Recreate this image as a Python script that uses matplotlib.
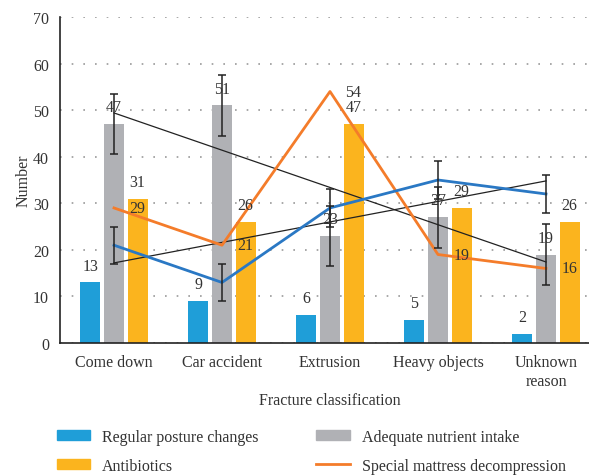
import numpy as np
import matplotlib
matplotlib.use('Agg')
import matplotlib.pyplot as plt
from matplotlib.patches import Patch
from matplotlib.lines import Line2D

categories = ['Come down', 'Car accident', 'Extrusion', 'Heavy objects', 'Unknown\nreason']
posture = [13, 9, 6, 5, 2]
nutrient = [47, 51, 23, 27, 19]
antibiotics = [31, 26, 47, 29, 26]
mattress = [29, 21, 54, 19, 16]
blue_line = [21, 13, 29, 35, 32]
nutrient_err = [6.5, 6.5, 6.5, 6.5, 6.5]
blue_line_err = [4, 4, 4, 4, 4]

c_blue = '#1f9ed8'
c_gray = '#b0b1b5'
c_yellow = '#fbb41e'
c_orange = '#f47c2a'
c_line_blue = '#2a78c4'

plt.rcParams['font.family'] = ['Liberation Serif', 'DejaVu Serif']
plt.rcParams['font.size'] = 11.5

fig = plt.figure(figsize=(5.89, 4.77), dpi=100)
ax = fig.add_axes([60 / 589, 133 / 477, 540 / 589, 326 / 477])

x = np.arange(len(categories))
off = 0.218
w = 0.185

ax.bar(x - off, posture, w, color=c_blue, zorder=2)
ax.bar(x, nutrient, w, color=c_gray, zorder=2)
ax.bar(x + off, antibiotics, w, color=c_yellow, zorder=2)

# linear trendlines
for series in (nutrient, blue_line):
    k, b = np.polyfit(x, series, 1)
    ax.plot(x, k * x + b, color='#222222', lw=0.9, zorder=3)

ax.plot(x, mattress, color=c_orange, lw=2.0, zorder=4)
ax.plot(x, blue_line, color=c_line_blue, lw=2.0, zorder=4)

ax.errorbar(x, nutrient, yerr=nutrient_err, fmt='none', ecolor='#222222',
            elinewidth=1.1, capsize=3, capthick=1.1, zorder=5)
ax.errorbar(x, blue_line, yerr=blue_line_err, fmt='none', ecolor='#222222',
            elinewidth=1.1, capsize=3, capthick=1.1, zorder=5)

# data labels
for i in range(len(categories)):
    ax.text(x[i] - off, posture[i] + 3.6, str(posture[i]), ha='center', va='center', color='#333333', zorder=6)
    ax.text(x[i], nutrient[i] + 3.6, str(nutrient[i]), ha='center', va='center', color='#333333', zorder=6)
    ax.text(x[i] + off, antibiotics[i] + 3.6, str(antibiotics[i]), ha='center', va='center', color='#333333', zorder=6)
    ax.text(x[i] + off, mattress[i], str(mattress[i]), ha='center', va='center', color='#333333', zorder=6)

ax.set_xlim(-0.5, 4.5)
ax.set_ylim(0, 70)
ax.set_yticks(range(0, 71, 10))
ax.set_xticks(x)
ax.set_xticklabels(categories)
ax.tick_params(length=0, pad=8, labelcolor='#333333')
ax.yaxis.grid(True, linestyle=(0, (1, 6)), color='#999999', lw=1.2)
ax.set_axisbelow(True)
for s in ('top', 'right'):
    ax.spines[s].set_visible(False)
for s in ('left', 'bottom'):
    ax.spines[s].set_linewidth(1.2)
    ax.spines[s].set_color('#222222')

ax.set_xlabel('Fracture classification', color='#333333')
ax.xaxis.set_label_coords(0.5, -0.150)
ax.xaxis.label.set_va('top')
ax.set_ylabel('Number', color='#333333')
ax.yaxis.set_label_coords(-0.052, 0.5)

handles = [Patch(color=c_blue), Patch(color=c_yellow), Patch(color=c_gray),
           Line2D([], [], color=c_orange, lw=2.0)]
labels = ['Regular posture changes', 'Antibiotics', 'Adequate nutrient intake',
          'Special mattress decompression']
leg = fig.legend(handles, labels, ncol=2, frameon=False, loc='upper left',
                 bbox_to_anchor=(52 / 589, 1 - 425 / 477), handlelength=2.1,
                 handleheight=0.6, handletextpad=0.75, labelspacing=0.8,
                 columnspacing=3.6, borderaxespad=0, borderpad=0.3)
for t in leg.get_texts():
    t.set_color('#333333')

fig.savefig('out.png', dpi=100)
